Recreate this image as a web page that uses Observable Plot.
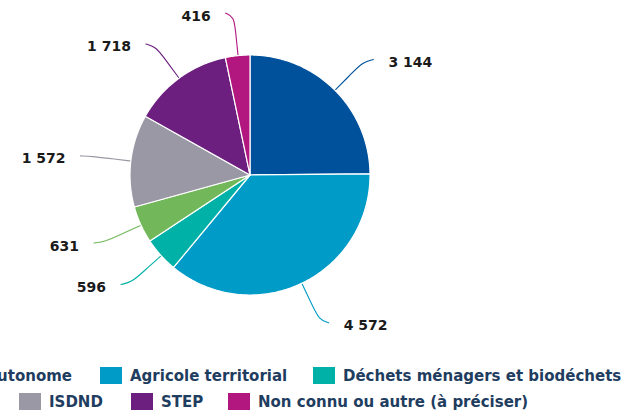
<!DOCTYPE html>
<html>
<head>
<meta charset="utf-8">
<script src="https://cdn.jsdelivr.net/npm/d3@7"></script>
<script src="https://cdn.jsdelivr.net/npm/@observablehq/plot@0.6"></script>
<style>
  html, body { margin: 0; padding: 0; background: #fff; }
  #wrap { width: 635px; position: relative; overflow: hidden; }
  #legend { position: relative; width: 635px; height: 58px; overflow: hidden;
            font-family: "DejaVu Sans", sans-serif; font-weight: bold; font-size: 15px; color: #1f3d5f; }
  .item { position: absolute; display: flex; align-items: center; white-space: nowrap; height: 17px; }
  .sw { width: 22px; height: 17px; margin-right: 8px; flex: none; }
</style>
</head>
<body>
<div id="wrap">
  <div id="chart"></div>
  <div id="legend"></div>
</div>
<script>
const categories = ["Agricole autonome", "Agricole territorial", "Déchets ménagers et biodéchets", "Industriel", "ISDND", "STEP", "Non connu ou autre (à préciser)"];
const values = [3144, 4572, 596, 631, 1572, 1718, 416];
const colors = ["#00519b", "#009bc6", "#00b1a8", "#72b85a", "#9a98a5", "#6c1f7e", "#b1177f"];

const W = 635, H = 360, R = 120;            // pixels
const cx = 250, cy = 175;                    // pie centre in pixels
const px = 1 / R;                            // one pixel in data units

const fmt = d3.formatLocale({decimal: ",", thousands: " ", grouping: [3], currency: ["", " €"]}).format(",");

const arcs = d3.pie().sort(null).value(d => d)(values);
const pt = (a, r) => ({x: Math.sin(a) * r, y: Math.cos(a) * r});

// slice outlines
const sliceRows = [];
arcs.forEach((a, i) => {
  const n = Math.max(2, Math.ceil((a.endAngle - a.startAngle) / 0.01));
  for (let k = 0; k <= n; k++) {
    const ang = a.startAngle + (a.endAngle - a.startAngle) * k / n;
    const p = pt(ang, 1);
    sliceRows.push({name: categories[i], x: p.x, y: p.y});
  }
});

// leader lines and labels
const leaderRows = [];
const labelRows = [];
arcs.forEach((a, i) => {
  const mid = (a.startAngle + a.endAngle) / 2;
  const side = Math.sin(mid) >= 0 ? 1 : -1;
  const p0 = pt(mid, 1), p1 = pt(mid, 1.2), p2 = pt(mid, 1.33), p3 = pt(mid, 1.36);
  const end = {x: p3.x + side * 8 * px, y: p3.y};
  [p0, p1, p2, end].forEach(p => leaderRows.push({name: categories[i], x: p.x, y: p.y}));
  labelRows.push({name: categories[i], label: fmt(values[i]), x: end.x, y: end.y, side});
});

const chart = Plot.plot({
  width: W, height: H,
  margin: 0, inset: 0,
  style: {fontFamily: "DejaVu Sans, sans-serif", background: "transparent"},
  x: {domain: [-cx / R, (W - cx) / R], axis: null},
  y: {domain: [-(H - cy) / R, cy / R], axis: null},
  color: {domain: categories, range: colors},
  marks: [
    Plot.line(leaderRows, {x: "x", y: "y", z: "name", stroke: "name", strokeWidth: 1.1, curve: "basis"}),
    Plot.area(sliceRows, {x1: 0, y1: 0, x2: "x", y2: "y", z: "name", fill: "name", stroke: "white", strokeWidth: 1.2}),
    Plot.text(labelRows.filter(d => d.side > 0), {x: "x", y: "y", text: "label", textAnchor: "start", dx: 15, dy: 3, fontSize: 14, fontWeight: "bold", fill: "#1a1a1a"}),
    Plot.text(labelRows.filter(d => d.side < 0), {x: "x", y: "y", text: "label", textAnchor: "end", dx: -15, dy: 3, fontSize: 14, fontWeight: "bold", fill: "#1a1a1a"})
  ]
});
document.getElementById("chart").appendChild(chart);

// legend (layout as in the reference, partly cut at the left edge)
const legendLayout = [
  {i: 0, right: 563, top: 7},
  {i: 1, left: 100, top: 7},
  {i: 2, left: 313, top: 7},
  {i: 4, left: 19, top: 33},
  {i: 5, left: 131, top: 33},
  {i: 6, left: 228, top: 33}
];
const legend = document.getElementById("legend");
legendLayout.forEach(l => {
  const it = document.createElement("div");
  it.className = "item";
  it.style.top = l.top + "px";
  if (l.left !== undefined) it.style.left = l.left + "px";
  else it.style.right = l.right + "px";
  const sw = document.createElement("span");
  sw.className = "sw";
  sw.style.background = colors[l.i];
  const tx = document.createElement("span");
  tx.textContent = categories[l.i];
  it.appendChild(sw);
  it.appendChild(tx);
  legend.appendChild(it);
});
</script>
</body>
</html>
